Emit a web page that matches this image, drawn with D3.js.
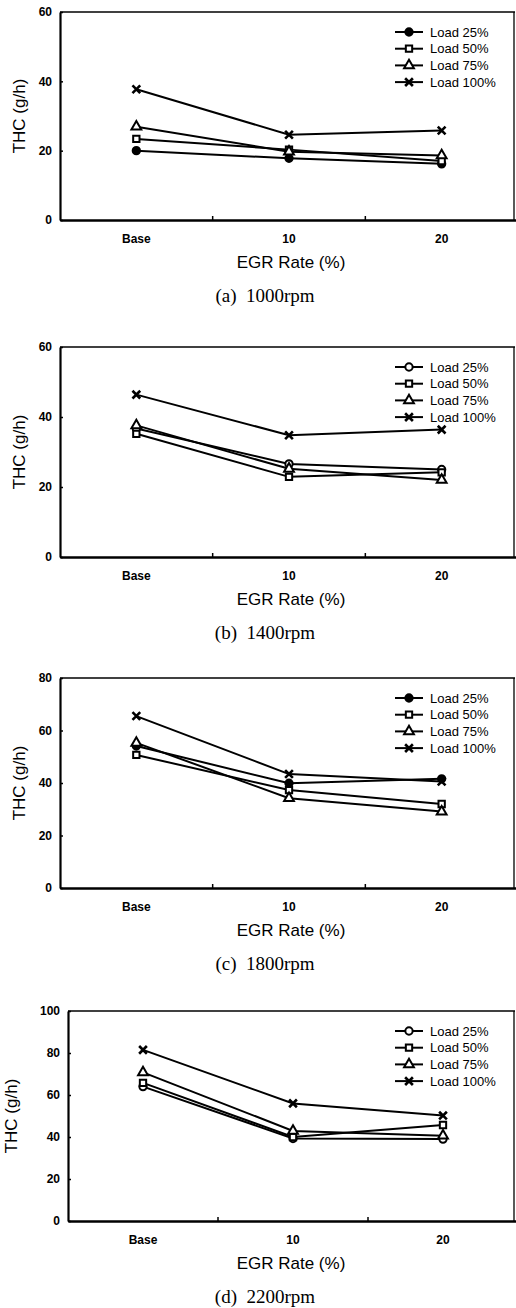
<!DOCTYPE html>
<html>
<head>
<meta charset="utf-8">
<script src="https://cdn.jsdelivr.net/npm/d3@7"></script>
<style>
  body { margin: 0; background: #fff; }
  svg { display: block; }
</style>
</head>
<body>
<div class="chart"></div>
<script>
// categories on the x axis
const categories = ['Base', '10', '20'];
const seriesNames = ['Load 25%', 'Load 50%', 'Load 75%', 'Load 100%'];

// THC values, one row per load (25, 50, 75, 100 %)
const thc1000 = [
  [20.0, 17.8, 16.2],
  [23.4, 20.3, 17.0],
  [26.9, 19.7, 18.6],
  [37.7, 24.6, 25.8]
];
const thc1400 = [
  [36.7, 26.6, 25.0],
  [35.2, 22.9, 24.2],
  [37.6, 25.2, 22.0],
  [46.4, 34.8, 36.4]
];
const thc1800 = [
  [54.1, 39.9, 41.6],
  [50.7, 37.3, 32.0],
  [55.3, 34.2, 29.1],
  [65.5, 43.4, 40.6]
];
const thc2200 = [
  [64.0, 39.3, 39.0],
  [65.8, 40.0, 45.7],
  [70.8, 42.9, 40.6],
  [81.5, 56.0, 50.2]
];

const yTicks1000 = [0, 20, 40, 60];
const yTicks1400 = [0, 20, 40, 60];
const yTicks1800 = [0, 20, 40, 60, 80];
const yTicks2200 = [0, 20, 40, 60, 80, 100];

const captions = ['(a)  1000rpm', '(b)  1400rpm', '(c)  1800rpm', '(d)  2200rpm'];

// layout of the four stacked panels
const panels = [
  { data: thc1000, ticks: yTicks1000, left: 60, top: 12,   bottom: 220,  titleX: 19, filled: [true, false, false, false] },
  { data: thc1400, ticks: yTicks1400, left: 60, top: 347,  bottom: 557,  titleX: 19, filled: [false, false, false, false] },
  { data: thc1800, ticks: yTicks1800, left: 60, top: 678,  bottom: 888,  titleX: 19, filled: [true, false, false, false] },
  { data: thc2200, ticks: yTicks2200, left: 68, top: 1011, bottom: 1221, titleX: 11, filled: [false, false, false, false] }
];

const W = 516, H = 1308, rightEdge = 514;

const crossSymbol = {
  draw(ctx, size) {
    const r = Math.sqrt(size) / 2;
    ctx.moveTo(-r, -r); ctx.lineTo(r, r);
    ctx.moveTo(r, -r); ctx.lineTo(-r, r);
  }
};
const symbols = [d3.symbolCircle, d3.symbolSquare, d3.symbolTriangle, crossSymbol];
const symbolSizes = [42, 40, 42, 60];

const svg = d3.select('.chart')
  .append('svg')
    .attr('width', W)
    .attr('height', H)
    .style('font-family', '"Liberation Sans", Arial, sans-serif');

svg.append('rect').attr('width', W).attr('height', H).attr('fill', '#fff');

function marker(sel, i, filled) {
  sel.append('path')
    .attr('d', d3.symbol().type(symbols[i]).size(symbolSizes[i]))
    .attr('fill', i === 3 ? 'none' : (filled ? '#000' : '#fff'))
    .attr('stroke', '#000')
    .attr('stroke-width', i === 3 ? 2.6 : 2);
}

panels.forEach((p, pi) => {
  const g = svg.append('g');

  const x = d3.scaleBand()
    .domain(categories)
    .range([p.left, 518]);

  const y = d3.scaleLinear()
    .domain([0, d3.max(p.ticks)])
    .range([p.bottom, p.top]);

  // frame top and right
  g.append('line')
    .attr('x1', p.left).attr('x2', rightEdge + 1)
    .attr('y1', p.top).attr('y2', p.top)
    .attr('stroke', '#000').attr('stroke-width', 1.5);
  g.append('line')
    .attr('x1', rightEdge).attr('x2', rightEdge)
    .attr('y1', p.top).attr('y2', p.bottom)
    .attr('stroke', '#000').attr('stroke-width', 1.3);

  // y axis
  const yAxis = g.append('g')
    .attr('transform', 'translate(' + p.left + ',0)')
    .call(d3.axisLeft(y).tickValues(p.ticks).tickSizeInner(-3).tickSizeOuter(0).tickPadding(8));
  yAxis.select('.domain').attr('stroke-width', 2.2);
  yAxis.selectAll('.tick line').attr('stroke-width', 1.5);
  yAxis.selectAll('.tick text')
    .attr('font-size', 12)
    .attr('font-weight', 'bold')
    .attr('font-family', '"Liberation Sans", Arial, sans-serif');

  // x axis
  const xAxis = g.append('g')
    .attr('transform', 'translate(0,' + p.bottom + ')')
    .call(d3.axisBottom(x).tickSize(0).tickPadding(14));
  xAxis.select('.domain').attr('stroke-width', 2.4);
  xAxis.selectAll('.tick text')
    .attr('font-size', 12)
    .attr('font-weight', 'bold')
    .attr('font-family', '"Liberation Sans", Arial, sans-serif');

  // small ticks between categories
  g.selectAll('.minor')
    .data(categories.slice(1))
    .enter().append('line')
      .attr('x1', d => x(d)).attr('x2', d => x(d))
      .attr('y1', p.bottom).attr('y2', p.bottom - 4)
      .attr('stroke', '#000').attr('stroke-width', 1.5);

  // axis titles
  g.append('text')
    .attr('transform', 'translate(' + p.titleX + ',' + (p.top + p.bottom) / 2 + ') rotate(-90)')
    .attr('text-anchor', 'middle')
    .attr('dominant-baseline', 'central')
    .attr('font-size', 17)
    .text('THC (g/h)');

  g.append('text')
    .attr('x', 291)
    .attr('y', p.bottom + 48)
    .attr('text-anchor', 'middle')
    .attr('font-size', 17)
    .text('EGR Rate (%)');

  g.append('text')
    .attr('x', 265)
    .attr('y', p.bottom + 82)
    .attr('text-anchor', 'middle')
    .attr('font-family', '"Liberation Serif", "Times New Roman", serif')
    .attr('font-size', 19)
    .style('white-space', 'pre')
    .text(captions[pi]);

  // series lines and markers
  const line = d3.line()
    .x((d, i) => x(categories[i]) + x.bandwidth() / 2)
    .y(d => y(d));

  p.data.forEach((vals, si) => {
    g.append('path')
      .datum(vals)
      .attr('fill', 'none')
      .attr('stroke', '#000')
      .attr('stroke-width', 2)
      .attr('d', line);
  });

  p.data.forEach((vals, si) => {
    vals.forEach((v, i) => {
      const m = g.append('g')
        .attr('transform', 'translate(' + (x(categories[i]) + x.bandwidth() / 2) + ',' + y(v) + ')');
      marker(m, si, p.filled[si]);
    });
  });

  // legend
  const legend = g.append('g')
    .attr('transform', 'translate(395,' + (p.top + 20) + ')');
  seriesNames.forEach((name, si) => {
    const row = legend.append('g').attr('transform', 'translate(0,' + si * 16.7 + ')');
    row.append('line')
      .attr('x1', 0).attr('x2', 28)
      .attr('stroke', '#000').attr('stroke-width', 2);
    const m = row.append('g').attr('transform', 'translate(14,0)');
    marker(m, si, p.filled[si]);
    row.append('text')
      .attr('x', 35)
      .attr('dominant-baseline', 'central')
      .attr('font-size', 13)
      .text(name);
  });
});
</script>
</body>
</html>
